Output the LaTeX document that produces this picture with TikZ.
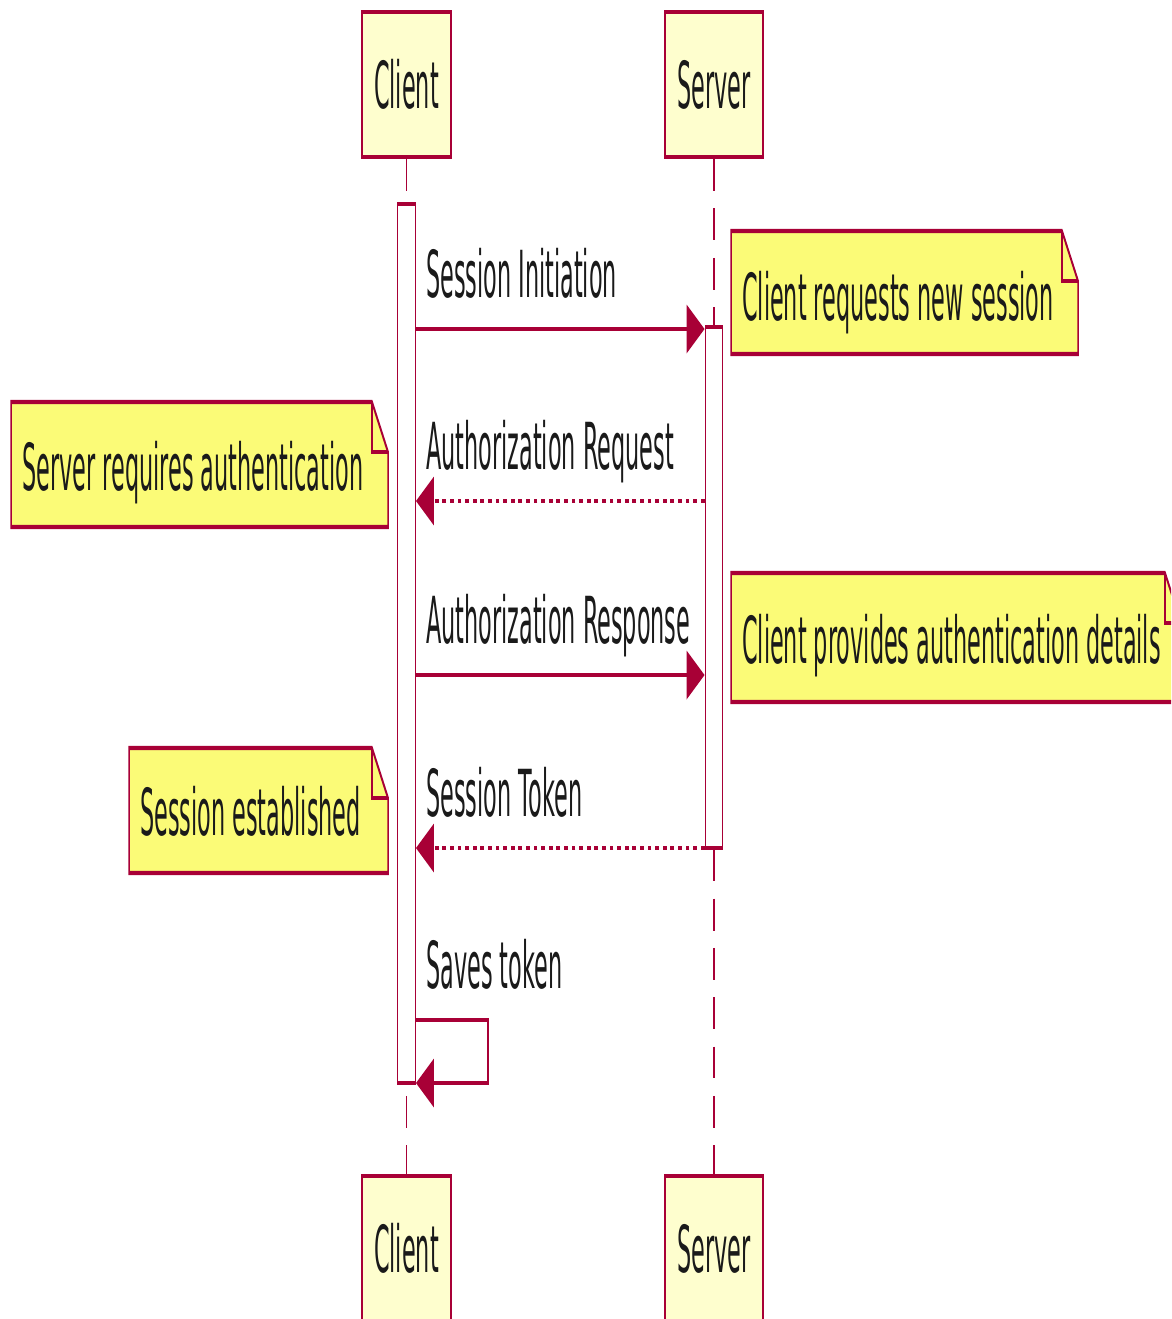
\documentclass[tikz,border=0pt]{standalone}
\usepackage{fontspec}
\setmainfont{DejaVu Sans}
\usetikzlibrary{arrows.meta}
\definecolor{umlred}{HTML}{A80036}
\definecolor{partfill}{HTML}{FEFECE}
\definecolor{notefill}{HTML}{FBFB77}
\definecolor{inkgray}{HTML}{1A1A1A}

% folded-corner note: #1 name, #2 x1, #3 y1, #4 x2, #5 y2
\newcommand\notebox[5]{%
  \draw[notebody] (#2,#3) -- ({#4-16},#3) -- (#4,{#3+50}) -- (#4,#5) -- (#2,#5) -- cycle;
  \draw[notefold] ({#4-16},#3) -- ({#4-16},{#3+50}) -- (#4,{#3+50});
  \coordinate (#1) at (#2,#3);}

\begin{document}
\begin{tikzpicture}[x=1pt,y=1pt]
\useasboundingbox (0,0) rectangle (1171,-1319);
\clip (0,0) rectangle (1171,-1319);
\begin{scope}[x=1pt, y=-0.344828pt, transform canvas={yscale=2.9},
  txt/.style={font=\fontsize{22.35pt}{26pt}\selectfont, inner sep=0pt, text=inkgray},
  part/.style={txt, draw=umlred, fill=partfill, line width=1.5pt,
               minimum width=#1, minimum height=50pt},
  bar/.style={draw=umlred, fill=white, line width=1.4pt, inner sep=0pt,
              minimum width=17.5pt, minimum height=#1},
  life/.style={draw=umlred, line width=1.3pt, dash pattern=on 11pt off 6pt},
  msg/.style={draw=umlred, line width=1.5pt,
              -{Triangle[length=18pt, width=16.5pt]}},
  ret/.style={msg, dash pattern=on 3.8pt off 3.8pt},
  notebody/.style={draw=umlred, fill=notefill, line width=1.5pt, line join=miter},
  notefold/.style={draw=umlred, line width=1.5pt},
  lbl/.style={txt, anchor=base west}]

% participants (top and bottom)
\node[part=89pt] (ch) at (406.5,84.5) {Client};
\node[part=98pt] (sh) at (714,84.5) {Server};
\node[part=89pt] (cf) at (406.5,1248.5) {Client};
\node[part=98pt] (sf) at (714,1248.5) {Server};

% lifelines
\draw[life] (ch.south) -- (cf.north);
\draw[life] (sh.south) -- (sf.north);

% activations
\node[bar=303.1pt] (cb) at (406.5,643.5) {};
\node[bar=179.7pt] (sb) at (714,587.5) {};

% message rows
\coordinate (r1) at (0,329);
\coordinate (r2) at (0,501);
\coordinate (r3) at (0,675);
\coordinate (r4) at (0,848);
\coordinate (r5) at (0,1020);
\coordinate (r5b) at (0,1083);
\coordinate (loop) at (488,1020);

\draw[msg] (cb.east |- r1) -- (sb.west |- r1);
\node[lbl] (l1) at (426,297) {Session Initiation};

\draw[ret] (sb.west |- r2) -- (cb.east |- r2);
\node[lbl] (l2) at (426,469) {Authorization Request};

\draw[msg] (cb.east |- r3) -- (sb.west |- r3);
\node[lbl] (l3) at (426,643) {Authorization Response};

\draw[ret] (sb.west |- r4) -- (cb.east |- r4);
\node[lbl] (l4) at (426,816) {Session Token};

\draw[msg] (cb.east |- r5) -- (loop) -- (loop |- r5b) -- (cb.east |- r5b);
\node[lbl] (l5) at (426,988) {Saves token};

% notes
\notebox{n1}{731}{231}{1078}{354}
\node[lbl] (t1) at (742,320) {Client requests new session};
\notebox{n2}{11}{402}{388}{527}
\node[lbl] (t2) at (22,490) {Server requires authentication};
\notebox{n3}{731}{573}{1181}{702}
\node[lbl] (t3) at (742,663) {Client provides authentication details};
\notebox{n4}{129}{748}{388}{873}
\node[lbl] (t4) at (140,835) {Session established};
\end{scope}
\end{tikzpicture}
\end{document}
